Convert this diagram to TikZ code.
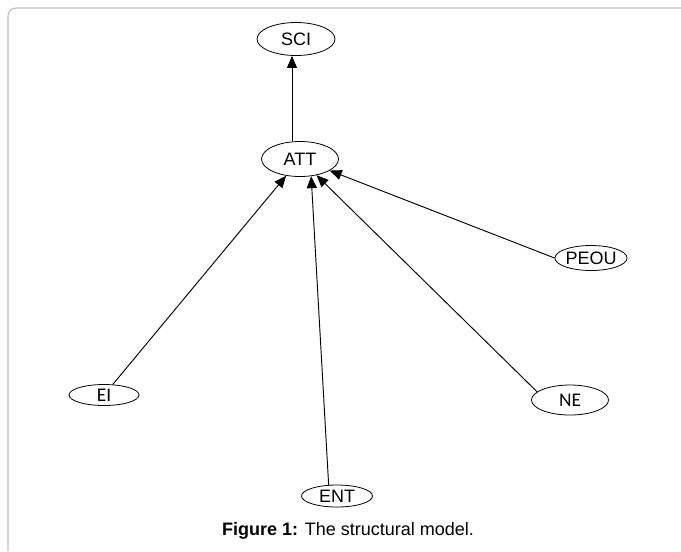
\documentclass[tikz,border=0pt]{standalone}
\usepackage{fontspec}
\setmainfont{Liberation Sans}
\newfontfamily\calfont{Carlito}
\usepackage{tikz}
\usetikzlibrary {arrows.meta,
                 shapes.geometric}
\definecolor{framegray}{RGB}{192,192,192}
\tikzset{
        base/.style={draw, ellipse, inner sep=0pt, line width=0.6pt,
                     font=\fontsize{13.5}{16}\selectfont},
        var/.style={base},
        myarrow/.style={-{Triangle[length=9pt, width=7.5pt]}, line width=0.7pt},
        frame/.style={draw=framegray, line width=0.9pt, rounded corners=6pt},
 }

\begin{document}
\begin{tikzpicture}[x=0.75pt, y=-0.75pt]
    \useasboundingbox (0,0) rectangle (681,551);
    \coordinate (fa) at (8,551);
    \coordinate (fb) at (8,8);
    \coordinate (fc) at (681,8);
    \draw[frame] (fa) -- (fb) -- (fc);

    \node[var, minimum width=58.5pt, minimum height=24.75pt] (sci) at (296,39) {SCI};
    \node[var, minimum width=57.75pt, minimum height=26.25pt] (att) at (300,159) {ATT};
    \node[var, minimum width=53.25pt, minimum height=18.75pt] (peou) at (591,258) {PEOU};
    \node[var, minimum width=52.5pt, minimum height=15.75pt] (ei) at (104,395)
         {\calfont\fontsize{14.5}{16}\selectfont EI};
    \node[var, minimum width=57.75pt, minimum height=22.5pt] (ne) at (570,400)
         {\calfont\fontsize{14.5}{16}\selectfont NE};
    \node[var, minimum width=53.25pt, minimum height=16.5pt] (ent) at (337,496) {ENT};

    \node[font=\fontsize{13.5}{16}\selectfont] (cap) at (348,531)
         {\textbf{Figure 1:} The structural model.};

    \draw[myarrow] ([xshift=-6pt]att.north) -- ([xshift=-3pt]sci.south);
    \draw[myarrow] (ei) -- (att);
    \draw[myarrow] (ent.127) -- (att.-57);
    \draw[myarrow] (ne.166) -- (att);
    \draw[myarrow] (peou.west) -- (att);

\end{tikzpicture}
\end{document}
